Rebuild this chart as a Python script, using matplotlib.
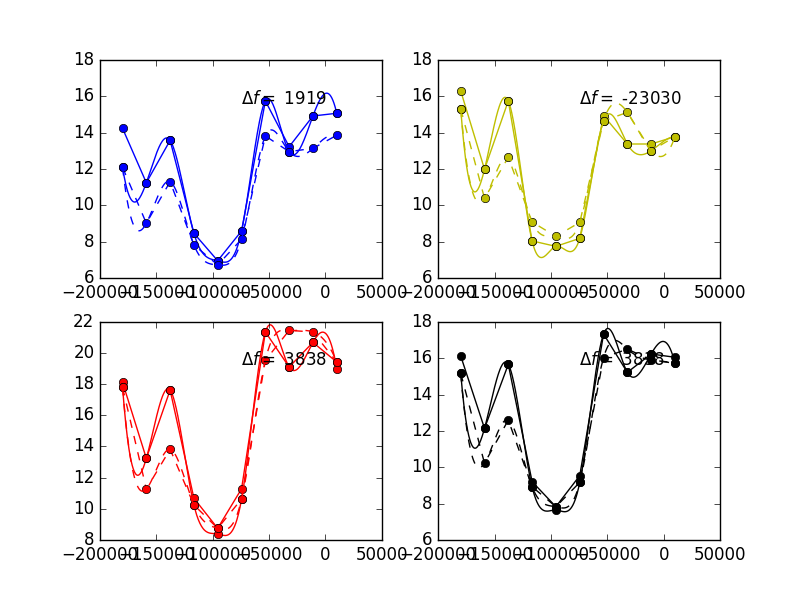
import numpy as np
import matplotlib
matplotlib.use('Agg')
import matplotlib.pyplot as plt

plt.style.use('classic')
plt.rcParams['mathtext.fontset'] = 'dejavusans'

# x positions of the samples (same in all four panels)
freqs = [-180000, -158900, -137800, -116700, -95600, -74400, -53300, -32200, -11100, 10000]

# blue panel
blue_solid = [14.24, 11.25, 13.58, 8.47, 6.96, 8.60, 15.75, 13.23, 14.92, 15.07]
blue_solid_smooth = [12.10, 11.25, 13.58, 8.47, 6.96, 8.60, 15.75, 12.96, 14.92, 15.07]
blue_dashed = [12.10, 9.02, 11.31, 7.83, 6.73, 8.14, 13.82, 12.96, 13.14, 13.86]

# yellow panel
yellow_solid = [16.30, 11.99, 15.75, 8.05, 7.75, 8.19, 14.94, 13.38, 13.38, 13.78]
yellow_solid_smooth = [15.31, 11.99, 15.75, 8.05, 7.75, 8.19, 14.65, 13.38, 13.01, 13.78]
yellow_dashed = [15.31, 10.39, 12.65, 9.09, 8.30, 9.07, 14.65, 15.12, 13.01, 13.78]

# red panel
red_solid = [18.12, 13.24, 17.62, 10.68, 8.75, 11.29, 21.35, 19.10, 20.68, 19.42]
red_solid_smooth = [17.80, 13.24, 17.62, 10.25, 8.39, 10.63, 21.35, 19.10, 20.68, 18.99]
red_dashed = [17.80, 11.27, 13.82, 10.25, 8.75, 10.63, 19.53, 21.45, 21.35, 19.42]

# black panel
black_solid = [16.12, 12.14, 15.66, 9.21, 7.83, 9.54, 17.33, 15.22, 16.23, 16.05]
black_solid_smooth = [15.17, 12.14, 15.66, 8.93, 7.65, 9.17, 17.33, 15.22, 16.23, 15.72]
black_dashed = [15.17, 10.22, 12.60, 8.93, 7.83, 9.17, 16.03, 16.50, 15.90, 15.72]

labels = ['1919', '-23030', '3838', '3838']
colors = ['b', 'y', 'r', 'k']
ylims = [(6, 18), (6, 18), (8, 22), (6, 18)]

panels = [
    (blue_solid, blue_solid_smooth, blue_dashed),
    (yellow_solid, yellow_solid_smooth, yellow_dashed),
    (red_solid, red_solid_smooth, red_dashed),
    (black_solid, black_solid_smooth, black_dashed),
]


def cubic_spline(x, y, xs):
    # not-a-knot cubic spline through (x, y), evaluated at xs
    x = np.asarray(x, float)
    y = np.asarray(y, float)
    n = len(x)
    h = np.diff(x)
    A = np.zeros((n, n))
    r = np.zeros(n)
    for i in range(1, n - 1):
        A[i, i - 1] = h[i - 1]
        A[i, i] = 2 * (h[i - 1] + h[i])
        A[i, i + 1] = h[i]
        r[i] = 6 * ((y[i + 1] - y[i]) / h[i] - (y[i] - y[i - 1]) / h[i - 1])
    A[0, 0], A[0, 1], A[0, 2] = h[1], -(h[0] + h[1]), h[0]
    A[-1, -3], A[-1, -2], A[-1, -1] = h[-1], -(h[-2] + h[-1]), h[-2]
    M = np.linalg.solve(A, r)
    i = np.clip(np.searchsorted(x, xs) - 1, 0, n - 2)
    hi = h[i]
    a = x[i + 1] - xs
    b = xs - x[i]
    return (M[i] * a ** 3 / (6 * hi) + M[i + 1] * b ** 3 / (6 * hi)
            + (y[i] / hi - M[i] * hi / 6) * a + (y[i + 1] / hi - M[i + 1] * hi / 6) * b)


fig, axes = plt.subplots(2, 2, figsize=(8, 6), dpi=100)
xs = np.linspace(freqs[0], freqs[-1], 400)

for ax, (solid, smooth, dashed), c, lab, yl in zip(axes.flat, panels, colors, labels, ylims):
    ax.plot(freqs, solid, '-o', color=c, mec='k', mew=0.5)
    ax.plot(xs, cubic_spline(freqs, smooth, xs), '-', color=c)
    ax.plot(freqs, smooth, 'o', color=c, mec='k', mew=0.5)
    ax.plot(freqs, dashed, '--o', color=c, mec='k', mew=0.5)
    ax.plot(xs, cubic_spline(freqs, dashed, xs), '--', color=c)
    ax.text(0.5, 0.8, r'$\Delta f=$ ' + lab, transform=ax.transAxes, fontsize=12)
    ax.set_xlim(-200000, 50000)
    ax.set_ylim(*yl)
    ax.set_xticks([-200000, -150000, -100000, -50000, 0, 50000])

fig.savefig('out.png', dpi=100)
